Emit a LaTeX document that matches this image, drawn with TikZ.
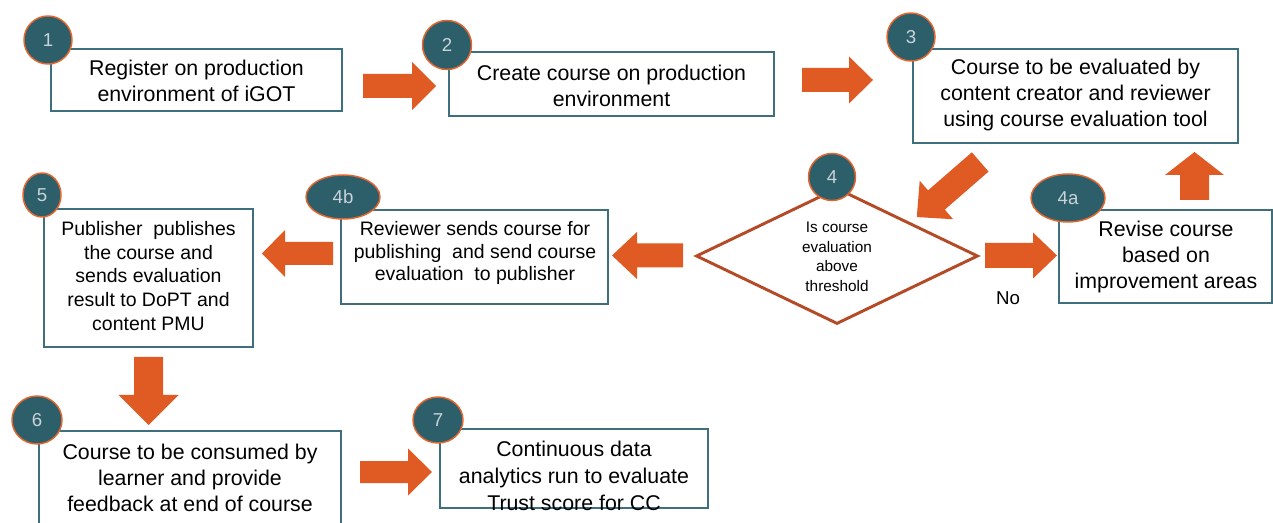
\documentclass[tikz,border=0pt]{standalone}
\usepackage{fontspec}
\setmainfont{Liberation Sans}
\usetikzlibrary{shapes.geometric}
\newdimen\px \px=0.75pt
\definecolor{tealfill}{HTML}{2D5F6B}
\definecolor{badgeline}{HTML}{E2662E}
\definecolor{numtext}{HTML}{C9D3D8}
\definecolor{boxline}{HTML}{3F6F7C}
\definecolor{arrowc}{HTML}{E05A24}
\definecolor{diacol}{HTML}{B54A27}
% #1 name, #2 cx, #3 cy, #4 angle, #5 length, #6 head width, #7 shaft width, #8 head length
\newcommand\blkarrow[8]{%
  \begin{scope}[shift={(#2,#3)}, rotate=#4]
    \coordinate (#1) at (0,0);
    \fill[blk] ({-#5/2},{-#7/2}) -- ({#5/2-#8},{-#7/2}) -- ({#5/2-#8},{-#6/2})
      -- ({#5/2},0) -- ({#5/2-#8},{#6/2}) -- ({#5/2-#8},{#7/2}) -- ({-#5/2},{#7/2}) -- cycle;
  \end{scope}}
\begin{document}
\begin{tikzpicture}[x=0.75pt,y=-0.75pt,
  stepbox/.style={draw=boxline, line width=1.5pt, inner sep=0pt},
  badge/.style={ellipse, fill=tealfill, draw=badgeline, line width=1.1pt, inner sep=0pt, text=numtext, font=\fontsize{14}{16}\selectfont},
  txt/.style={align=center, font=\fontsize{16}{19.5}\selectfont, inner sep=0pt},
  txtn/.style={align=center, font=\fontsize{14.6}{17.2}\selectfont, inner sep=0pt},
  blk/.style={fill=arrowc, draw=none},
]
\clip (0,0) rectangle (1273,523);
\fill[white] (0,0) rectangle (1273,523);

% boxes
\node[stepbox, minimum width=291\px, minimum height=62\px] (b1) at (196.5,80) {};
\node[stepbox, minimum width=325\px, minimum height=64\px] (b2) at (611.5,84) {};
\node[stepbox, minimum width=325\px, minimum height=94\px] (b3) at (1075.5,96) {};
\node[stepbox, minimum width=213\px, minimum height=93\px] (b4a) at (1165.5,256.5) {};
\node[stepbox, minimum width=267\px, minimum height=94\px] (b4b) at (474.5,257) {};
\node[stepbox, minimum width=209\px, minimum height=138\px] (b5) at (148.5,278) {};
\node[stepbox, minimum width=302\px, minimum height=114\px] (b6) at (190,488) {};
\node[stepbox, minimum width=268\px, minimum height=79\px] (b7) at (574,468.5) {};

% decision
\node[diamond, draw=diacol, line width=2.2pt, minimum width=282\px, minimum height=136\px, inner sep=0pt] (d4) at (837,256) {};

% texts
\node[txt] (t1) at (196.5,81) {Register on production\\environment of iGOT};
\node[txt] (t2) at (611.5,86) {Create course on production\\environment};
\node[txt] (t3) at (1075.5,95) {Course to be evaluated by\\content creator and reviewer\\using course evaluation tool};
\node[align=center, inner sep=0pt, font=\fontsize{11.5}{14.6}\selectfont] (td) at (837,257) {Is course\\evaluation\\above\\threshold};
\node[txt] (t4a) at (1166,257) {Revise course\\based on\\improvement areas};
\node[txtn] (t4b) at (475,253) {Reviewer sends course for\\publishing\ \ and send course\\evaluation\ \ to publisher};
\node[txtn, font=\fontsize{14.6}{17.8}\selectfont] (t5) at (148.5,276) {Publisher\ \ publishes\\the course and\\sends evaluation\\result to DoPT and\\content PMU};
\node[txt] (t6) at (190,478) {Course to be consumed by\\learner and provide\\feedback at end of course};
\node[txt, font=\fontsize{16}{20}\selectfont] (t7) at (574,476) {Continuous data\\analytics run to evaluate\\Trust score for CC};
\node[inner sep=0pt, font=\fontsize{14}{16}\selectfont] (no) at (1008,298) {No};

% block arrows
\blkarrow{a12}{399.5}{86}{0}{73}{48}{24}{24}
\blkarrow{a23}{837.5}{80}{0}{71}{47}{24}{24}
\blkarrow{a34}{948.5}{189.5}{221}{84}{51}{25.5}{26}
\blkarrow{a44a}{1021}{255.5}{0}{72}{46}{25}{24}
\blkarrow{a4a3}{1194.5}{176}{90}{48}{59}{29}{23}
\blkarrow{a44b}{647.5}{255.5}{180}{71}{47}{24}{25}
\blkarrow{a4b5}{297.5}{253.5}{180}{71}{47}{23}{23}
\blkarrow{a56}{148.5}{391}{270}{68}{60}{29}{30}
\blkarrow{a67}{396}{472}{0}{72}{47}{22}{24}

% badges
\node[badge, minimum width=48\px, minimum height=48\px] (n1) at (48,40) {1};
\node[badge, minimum width=49\px, minimum height=49\px] (n2) at (447,45) {2};
\node[badge, minimum width=48\px, minimum height=48\px] (n3) at (911,37) {3};
\node[badge, minimum width=47\px, minimum height=47\px] (n4) at (832,177) {4};
\node[badge, minimum width=74\px, minimum height=48\px] (n4a) at (1068,198) {4a};
\node[badge, minimum width=74\px, minimum height=44\px] (n4b) at (343,197) {4b};
\node[badge, minimum width=38\px, minimum height=44\px] (n5) at (42,195) {5};
\node[badge, minimum width=50\px, minimum height=48\px] (n6) at (37,420) {6};
\node[badge, minimum width=50\px, minimum height=46\px] (n7) at (438,420) {7};
\end{tikzpicture}
\end{document}
